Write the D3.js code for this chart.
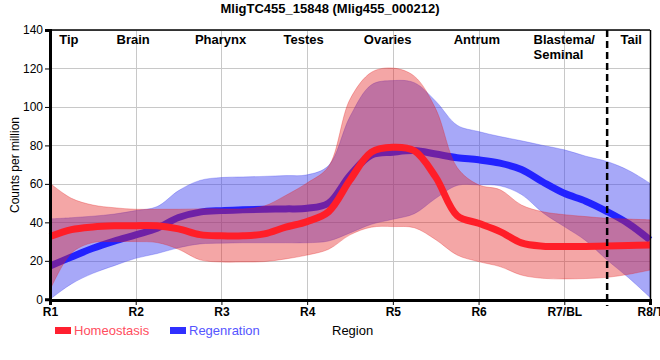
<!DOCTYPE html>
<html><head><meta charset="utf-8">
<script src="https://cdn.jsdelivr.net/npm/d3@7"></script>
<style>
body{margin:0;background:#fff;}
text{font-family:"Liberation Sans",Arial,sans-serif;}
</style></head>
<body><svg id="c" width="660" height="360"></svg>
<script>
// ---- data ----
const title = "MligTC455_15848 (Mlig455_000212)";
const categories = ["R1","R2","R3","R4","R5","R6","R7/BL","R8/T"];
const yTicks = [0,20,40,60,80,100,120,140];
const regionNames = ["Tip","Brain","Pharynx","Testes","Ovaries","Antrum","Blastema/\nSeminal","Tail"];
const regionNamePos = [0.22,0.97,1.99,2.96,3.94,4.98,6.0,6.78];
const tailBoundary = 6.5;
// sample positions along the region axis (in region index units)
const pos = [0,0.25,0.5,0.75,1,1.25,1.5,1.75,2,2.25,2.5,2.75,3,3.25,3.5,3.75,4,4.25,4.5,4.75,5,5.25,5.5,5.75,6,6.25,6.5,6.75,7];
const homeoMean  = [32.6,36.2,37.6,38.2,38.3,38.2,36.6,33.6,33,33,34,37.5,40.4,45.5,62,76.5,79,77.2,63.5,43.5,39.5,35.2,29.3,27.6,27.4,27.5,27.7,28,28.2];
const homeoUpper = [60.3,52.5,49,47.6,46.8,46.8,46.8,47,47,47,48.5,54,60.5,69,104,118,120.2,116,99,68.5,59.5,57,49,45.5,44,43,42.1,41.7,41.3];
const homeoLower = [4.8,24,29.5,30,30,29.5,26,20.5,19.4,19.4,19.6,21,23,26,33.5,37.5,37.8,37.2,31,23,19.6,17,12.6,10.9,10.6,10.8,11.4,13,15.2];
const regenMean  = [17.3,22,26.5,30.2,33.5,37,42.5,45.3,46.1,46.5,46.8,47,47.3,50,64.5,75,76.5,77.3,75.5,73.6,72.5,70.8,67.5,61,55.1,51,45.6,39.3,30.9];
const regenUpper = [41.8,42.4,43.2,44.3,46.1,48.2,56.5,61.8,63.3,63.6,63.9,64.3,64.7,69.5,95,111.5,113.7,112.6,103,90.5,87.2,84.6,82.4,80,77.7,74.4,71.6,67,60.3];
const regenLower = [0,8,13.5,17.5,21.3,23.8,26.8,28.8,29.2,29.4,29.4,29.4,29.4,30.3,34.5,39,41.6,44.5,52.5,59.2,59.5,59,54.5,45,37.8,30.5,20.4,11.2,1];
const seriesNames = ["Homeostasis","Regenration"];

// ---- chart ----
const svg = d3.select("#c");
const L=50,R=650,T=30,B=300;
const x = d3.scaleLinear().domain([0,7]).range([L,R]);
const y = d3.scaleLinear().domain([0,140]).range([B-0.7,T]);

// grid
const g = svg.append("g");
g.selectAll(".hg").data(yTicks.slice(1)).join("line")
 .attr("x1",L).attr("x2",R).attr("y1",d=>Math.round(y(d))+0.5).attr("y2",d=>Math.round(y(d))+0.5)
 .attr("stroke","#c8c8c8").attr("stroke-width",1);
g.selectAll(".vg").data(d3.range(1,7)).join("line")
 .attr("y1",T).attr("y2",B).attr("x1",d=>Math.round(x(d))+0.5).attr("x2",d=>Math.round(x(d))+0.5)
 .attr("stroke","#c8c8c8").attr("stroke-width",1);

const curve = d3.curveCatmullRom.alpha(0.5);
function band(up,lo){return d3.area().x((d,i)=>x(pos[i])).y0((d,i)=>y(lo[i])).y1((d,i)=>y(up[i])).curve(curve)(pos);}
function line(v){return d3.line().x((d,i)=>x(pos[i])).y((d,i)=>y(v[i])).curve(curve)(pos);}

svg.append("path").attr("d",band(regenUpper,regenLower))
 .attr("fill","rgba(60,62,240,0.45)").attr("stroke","rgba(60,62,240,0.3)").attr("stroke-width",1);
svg.append("path").attr("d",line(regenMean)).attr("fill","none")
 .attr("stroke","#2222ff").attr("stroke-width",7);
svg.append("path").attr("d",band(homeoUpper,homeoLower))
 .attr("fill","rgba(228,33,33,0.4)").attr("stroke","rgba(228,33,33,0.3)").attr("stroke-width",1);
svg.append("path").attr("d",line(homeoMean)).attr("fill","none")
 .attr("stroke","#ff1e28").attr("stroke-width",7);

// frame
svg.append("line").attr("x1",L).attr("x2",R).attr("y1",T).attr("y2",T).attr("stroke","#000").attr("stroke-width",1.5);
svg.append("line").attr("x1",R+0.5).attr("x2",R+0.5).attr("y1",T).attr("y2",B).attr("stroke","#000").attr("stroke-width",1.5);

// dashed tail boundary
svg.append("line").attr("x1",x(tailBoundary)).attr("x2",x(tailBoundary)).attr("y1",T).attr("y2",B+6)
 .attr("stroke","#000").attr("stroke-width",2.5).attr("stroke-dasharray","7,4");

// axes
const yAxis = d3.axisLeft(y).tickValues(yTicks).tickSize(5).tickPadding(2);
const ya = svg.append("g").attr("transform",`translate(${L},0)`).call(yAxis);
ya.select(".domain").attr("stroke","#000").attr("stroke-width",3);
ya.selectAll("text").attr("font-size",12).attr("fill","#000").attr("font-family","Liberation Sans, Arial, sans-serif");
const xAxis = d3.axisBottom(x).tickValues(d3.range(0,8)).tickFormat(i=>categories[i]).tickSize(5).tickPadding(2);
const xa = svg.append("g").attr("transform",`translate(0,${B})`).call(xAxis);
xa.select(".domain").attr("stroke","#000").attr("stroke-width",3);
xa.selectAll("text").attr("font-size",12).attr("font-weight","bold").attr("fill","#000").attr("font-family","Liberation Sans, Arial, sans-serif");

// region names
regionNames.forEach((n,k)=>{
  const lines = n.split("\n");
  const t = svg.append("text").attr("x",x(regionNamePos[k])).attr("y",44)
    .attr("text-anchor","middle").attr("font-size",13).attr("font-weight","bold").text(lines[0]);
  if(lines.length>1){
    const bb = t.node().getBBox();
    svg.append("text").attr("x",bb.x).attr("y",59).attr("font-size",13).attr("font-weight","bold").text(lines[1]);
  }
});

// title
svg.append("text").attr("x",330).attr("y",13).attr("text-anchor","middle")
 .attr("font-size",13).attr("font-weight","bold").text(title);
// y label
svg.append("text").attr("transform","translate(19,165) rotate(-90)").attr("text-anchor","middle")
 .attr("font-size",12).text("Counts per million");
// x label
svg.append("text").attr("x",332).attr("y",335).attr("font-size",13).text("Region");

// legend
const legCol = ["#ff2030","#3030ff"], legTxt=["#ff4d5e","#5555ff"], legX=[55,170];
seriesNames.forEach((n,k)=>{
  svg.append("rect").attr("x",legX[k]).attr("y",327).attr("width",16).attr("height",7).attr("fill",legCol[k]);
  svg.append("text").attr("x",legX[k]+19).attr("y",335).attr("font-size",13).attr("fill",legTxt[k]).text(n);
});
</script></body></html>
